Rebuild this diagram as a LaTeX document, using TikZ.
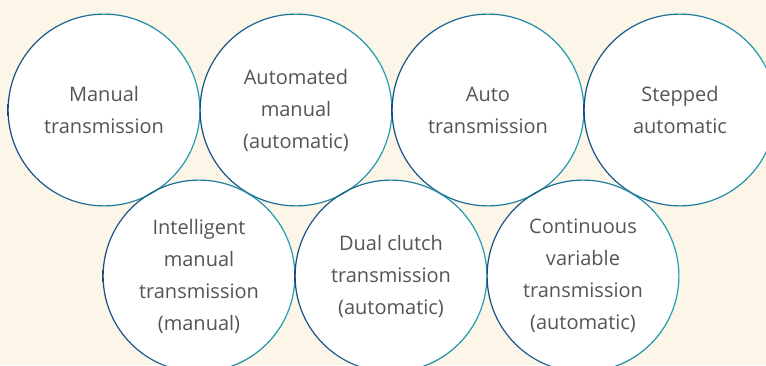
\documentclass[tikz,border=0pt]{standalone}
\usepackage{fontspec}
\setmainfont{Open Sans}
\definecolor{cream}{HTML}{FCF6E8}
\definecolor{ringblue}{HTML}{1B4A82}
\definecolor{ringteal}{HTML}{22A3B4}
\definecolor{wordgrey}{HTML}{555555}
\tikzset{
  wheel/.style={circle, fill=white, minimum size=192pt, inner sep=0pt,
    align=center, text=wordgrey,
    font=\fontsize{20}{32}\selectfont},
  ring/.style={left color=ringblue, right color=ringteal, even odd rule}
}
\begin{document}
\begin{tikzpicture}[x=1pt, y=-1pt]
\fill[cream] (0,0) rectangle (766,365);
\useasboundingbox (0,0) rectangle (766,365);
\begin{scope}
\clip (0,0) rectangle (766,365);
% top row
\node[wheel] (manual)  at (104,110) {Manual\\transmission};
\node[wheel] (amt)     at (296,110) {Automated\\manual\\(automatic)};
\node[wheel] (auto)    at (488,110) {Auto\\transmission};
\node[wheel] (stepped) at (680,110) {Stepped\\automatic};
% bottom row
\node[wheel] (imt) at (199,276) {Intelligent\\manual\\transmission\\(manual)};
\node[wheel] (dct) at (391,276) {Dual clutch\\transmission\\(automatic)};
\node[wheel] (cvt) at (583,276) {Continuous\\variable\\transmission\\(automatic)};
\foreach \n in {manual,amt,auto,stepped,imt,dct,cvt}
  \shade[ring] (\n.center) circle (96.5pt) (\n.center) circle (95.3pt);
\end{scope}
\end{tikzpicture}
\end{document}
